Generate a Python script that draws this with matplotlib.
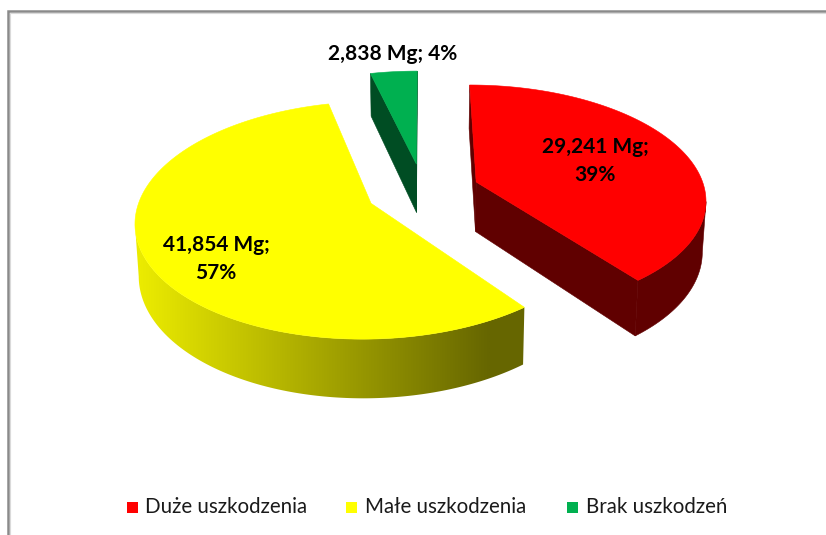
import numpy as np
import matplotlib
matplotlib.use("Agg")
import matplotlib.pyplot as plt
from matplotlib.colors import LinearSegmentedColormap
from matplotlib.patches import Polygon, Rectangle

# ---- data ----
categories = ["Duże uszkodzenia", "Małe uszkodzenia", "Brak uszkodzeń"]
values = [29241, 41854, 2838]
value_labels = ["29,241 Mg;\n39%", "41,854 Mg;\n57%", "2,838 Mg; 4%"]

# ---- style ----
top_colors = ["#FF0000", "#FFFF00", "#00B050"]
wall_colors = ["#600000", None, "#004D23"]
label_xy = [(595, 161), (216, 259), (393, 54)]
legend_box_x = [127, 346, 567]
legend_text_x = [145, 365, 586]

# ---- projection of the tilted pie into pixels ----
CX, CY = 423.0, 191.0
A, B, K = 229.0, 113.0, 0.14
EXPLODE = 0.248
DEPTH = 50.0
BOTTOM_SHRINK = 0.987


def project(u, w):
    den = 1 - K * w
    return CX + A * u / den, CY + B * w / den


def bottom(u, w):
    x, y = project(u, w)
    den = 1 - K * w
    return CX + (x - CX) * BOTTOM_SHRINK, y + DEPTH / den


fig = plt.figure(figsize=(8.26, 5.35), dpi=100)
ax = fig.add_axes([0, 0, 1, 1])
ax.axis("off")

# frame
ax.plot([8, 8, 826], [535, 11, 11], color="#8A8A8A", lw=1.8, solid_capstyle="butt",
        solid_joinstyle="miter", zorder=1)
ax.plot([10, 10, 826], [535, 13, 13], color="#DADADA", lw=0.8, solid_capstyle="butt",
        solid_joinstyle="miter", zorder=1)

shade = LinearSegmentedColormap.from_list("wall", [(235 / 255, 235 / 255, 0), (102 / 255, 102 / 255, 0)])

total = sum(values)
start = 0.0
for i, val in enumerate(values):
    sweep = 360.0 * val / total
    mid = np.radians(start + sweep / 2)
    ou, ow = EXPLODE * np.sin(mid), -EXPLODE * np.cos(mid)
    th = np.radians(np.linspace(start, start + sweep, 400))
    u = ou + np.sin(th)
    w = ow - np.cos(th)
    tx, ty = project(u, w)
    bx, by = bottom(u, w)
    ax0, ay0 = project(ou, ow)
    bx0, by0 = bottom(ou, ow)

    # only the part of the rim that runs right-to-left faces the viewer
    mt = np.gradient(tx) < 0
    mb = np.gradient(bx) < 0
    outer = None
    if mt.any() and mb.any():
        outer = np.column_stack([np.r_[tx[mt], bx[mb][::-1]], np.r_[ty[mt], by[mb][::-1]]])

    if wall_colors[i] is not None:
        c = wall_colors[i]
        for j in (0, -1):
            ax.add_patch(Polygon([(ax0, ay0), (tx[j], ty[j]), (bx[j], by[j]), (bx0, by0)],
                                 closed=True, facecolor=c, edgecolor=c, lw=0.4, zorder=2 + i))
        if outer is not None:
            ax.add_patch(Polygon(outer, closed=True, facecolor=c, edgecolor=c, lw=0.4, zorder=2 + i))
    else:
        grad = np.linspace(0, 1, 256).reshape(1, -1)
        im = ax.imshow(grad, cmap=shade, extent=(140, 490, 420, 200), aspect="auto",
                       zorder=2 + i, interpolation="bilinear")
        # the flat ends of the gradient continue beyond its own span
        left = ax.add_patch(Rectangle((120, 200), 20, 220, facecolor=shade(0.0), edgecolor="none", zorder=2 + i))
        right = ax.add_patch(Rectangle((490, 200), 50, 220, facecolor=shade(1.0), edgecolor="none", zorder=2 + i))
        clip = Polygon(outer, closed=True, transform=ax.transData, facecolor="none", edgecolor="none")
        ax.add_patch(clip)
        for art in (im, left, right):
            art.set_clip_path(clip)

    # top face
    pts = np.column_stack([np.r_[ax0, tx], np.r_[ay0, ty]])
    ax.add_patch(Polygon(pts, closed=True, facecolor=top_colors[i],
                         edgecolor=top_colors[i], lw=0.4, zorder=2.5 + i))
    start += sweep

ax.set_xlim(0, 826)
ax.set_ylim(535, 0)

# value labels
for txt, (x, y) in zip(value_labels, label_xy):
    ax.text(x, y, txt, ha="center", va="center", family="Lato", weight="bold",
            fontsize=15, color="black", linespacing=1.45, zorder=10)

# legend
for c, name, bxp, txp in zip(top_colors, categories, legend_box_x, legend_text_x):
    ax.add_patch(Rectangle((bxp, 502), 11, 11, facecolor=c, edgecolor="none", zorder=10))
    ax.text(txp, 507, name, ha="left", va="center", family="Lato",
            fontsize=14.8, color="#1A1A1A", zorder=10)

fig.savefig("out.png", dpi=100)
